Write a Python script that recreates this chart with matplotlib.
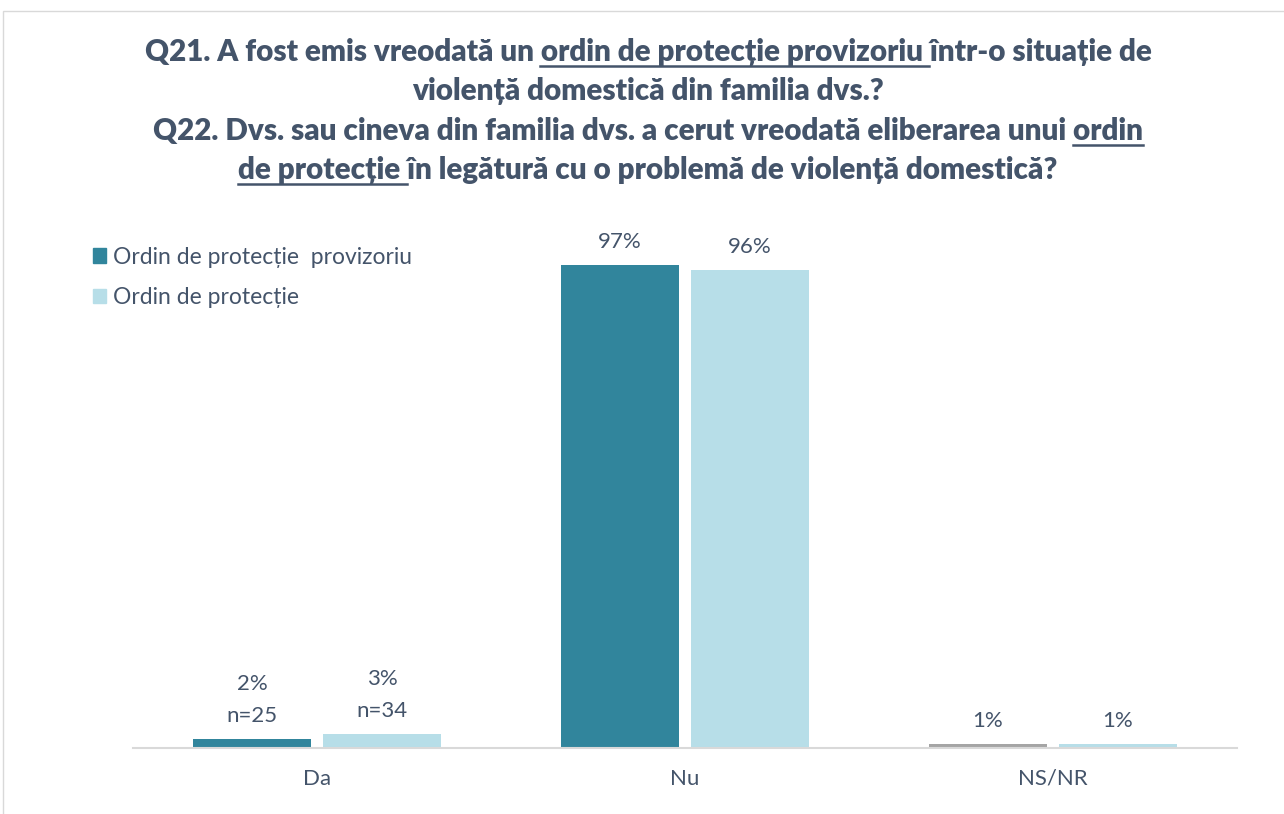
import matplotlib
matplotlib.use("Agg")
import matplotlib.pyplot as plt
from matplotlib.lines import Line2D
from matplotlib.patches import Rectangle
import numpy as np

# data
categories = ["Da", "Nu", "NS/NR"]
provizoriu = [1.8, 97.0, 0.8]
protectie = [2.8, 96.0, 0.8]
n_labels_prov = ["n=25", "", ""]
n_labels_prot = ["n=34", "", ""]
series_names = ["Ordin de protecție  provizoriu", "Ordin de protecție"]

title_lines = [
    [("Q21. A fost emis vreodată un ", False), ("ordin de protecție provizoriu ", True),
     ("într-o situație de", False)],
    [("violență domestică din familia dvs.?", False)],
    [("Q22. Dvs. sau cineva din familia dvs. a cerut vreodată eliberarea unui ", False),
     ("ordin", True)],
    [("de protecție ", True), ("în legătură cu o problemă de violență domestică?", False)],
]

TEXT = "#44546A"
DARK = "#31859C"
LIGHT = "#B7DEE8"
GREY = "#A5A5A5"

plt.rcParams["font.family"] = ["Lato", "DejaVu Sans"]

W, H = 1284, 814
fig = plt.figure(figsize=(W / 100, H / 100), dpi=100)

# chart border
fig.patches.append(Rectangle((3 / W, -0.01), 1.0, (H - 11) / H + 0.01, transform=fig.transFigure,
                             fill=False, edgecolor="#D9D9D9", linewidth=1))

ax = fig.add_axes([133 / W, (H - 748) / H, 1104 / W, 498 / H])
x = np.arange(len(categories))
bw = 0.32
gap = 0.033
prov_colors = [DARK, DARK, GREY]
b1 = ax.bar(x - bw / 2 - gap / 2, provizoriu, bw, color=prov_colors, label=series_names[0])
b2 = ax.bar(x + bw / 2 + gap / 2, protectie, bw, color=LIGHT, label=series_names[1])

for bars, vals, ns in [(b1, provizoriu, n_labels_prov), (b2, protectie, n_labels_prot)]:
    for rect, v, n in zip(bars, vals, ns):
        lab = f"{round(v)}%" + ("\n" + n if n else "")
        ax.annotate(lab, (rect.get_x() + rect.get_width() / 2, rect.get_height()),
                    xytext=(0, 9.5), textcoords="offset points", ha="center", va="bottom",
                    fontsize=16, color=TEXT, linespacing=1.75, annotation_clip=False)

ax.set_xlim(-0.5, 2.5)
ax.set_ylim(0, 100)
ax.set_xticks(x)
ax.set_xticklabels(categories, fontsize=16, color=TEXT)
ax.tick_params(axis="x", length=0, pad=15)
ax.set_yticks([])
for s in ["top", "right", "left"]:
    ax.spines[s].set_visible(False)
ax.spines["bottom"].set_color("#D9D9D9")
ax.spines["bottom"].set_linewidth(1.5)

# legend (custom placement at upper left)
handles = [Rectangle((0, 0), 1, 1, color=DARK), Rectangle((0, 0), 1, 1, color=LIGHT)]
fig.legend(handles, series_names, loc="upper left", bbox_to_anchor=(72 / W, 1 - 226 / H),
           frameon=False, fontsize=16.5, labelcolor=TEXT, handlelength=0.6, handleheight=0.6,
           handletextpad=0.3, labelspacing=0.85)

# title with underlined parts
renderer = fig.canvas.get_renderer()


def text_width(s, **kw):
    t = fig.text(0, 0, s + "|", **kw)
    t2 = fig.text(0, 0, "|", **kw)
    w = t.get_window_extent(renderer).width - t2.get_window_extent(renderer).width
    t.remove()
    t2.remove()
    return w


tkw = dict(fontsize=21.3, fontweight="heavy", color=TEXT)
cx = 648
baselines = [61, 100, 140, 179]
for segs, yb in zip(title_lines, baselines):
    full = "".join(s for s, _ in segs)
    total = text_width(full, **tkw)
    left = cx - total / 2
    fig.text(left / W, 1 - yb / H, full, ha="left", va="baseline", **tkw)
    pos = 0
    for s, ul in segs:
        w = text_width(s, **tkw)
        if ul:
            yl = 1 - (yb + 5) / H
            fig.add_artist(Line2D([(left + pos) / W, (left + pos + w) / W], [yl, yl],
                                  transform=fig.transFigure, color=TEXT, linewidth=1.8))
        pos += w

fig.savefig("out.png", dpi=100)
